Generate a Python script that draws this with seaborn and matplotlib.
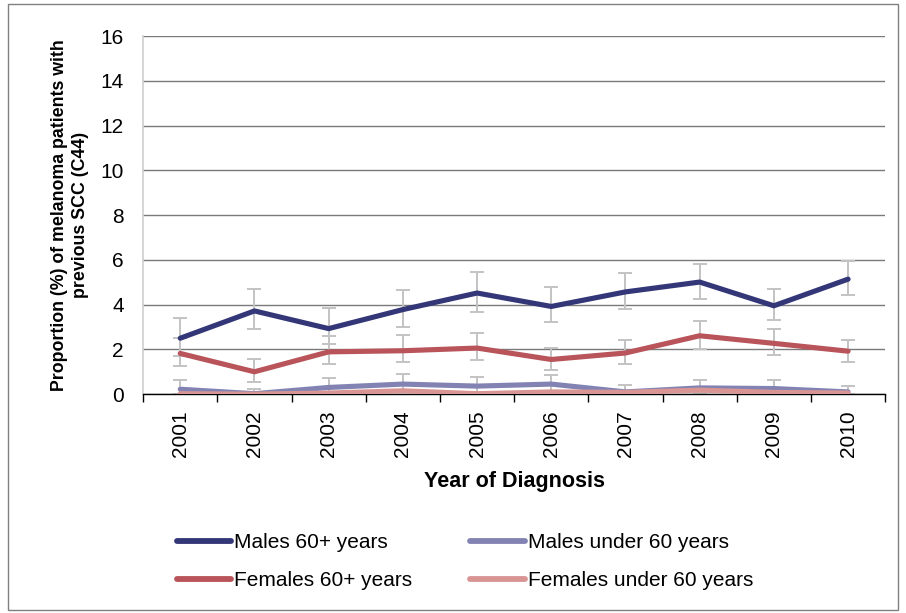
import matplotlib
matplotlib.use("Agg")
import matplotlib.pyplot as plt
import seaborn as sns
import pandas as pd
import numpy as np
from matplotlib.patches import Rectangle

years = ["2001", "2002", "2003", "2004", "2005", "2006", "2007", "2008", "2009", "2010"]

males_60 = [2.50, 3.72, 2.93, 3.78, 4.52, 3.92, 4.57, 5.01, 3.95, 5.14]
males_60_lo = [1.70, 2.89, 2.23, 2.98, 3.68, 3.23, 3.79, 4.24, 3.33, 4.45]
males_60_hi = [3.42, 4.72, 3.83, 4.67, 5.46, 4.79, 5.42, 5.80, 4.72, 5.95]

females_60 = [1.82, 1.00, 1.89, 1.94, 2.06, 1.55, 1.84, 2.61, 2.27, 1.92]
females_60_lo = [1.25, 0.55, 1.34, 1.44, 1.52, 1.10, 1.37, 2.04, 1.74, 1.44]
females_60_hi = [2.53, 1.55, 2.59, 2.63, 2.74, 2.08, 2.44, 3.26, 2.89, 2.44]

males_u60 = [0.22, 0.02, 0.30, 0.45, 0.36, 0.45, 0.10, 0.28, 0.25, 0.10]
males_u60_lo = [0.00, 0.00, 0.02, 0.12, 0.08, 0.15, 0.00, 0.05, 0.03, 0.00]
males_u60_hi = [0.62, 0.25, 0.73, 0.88, 0.75, 0.85, 0.40, 0.65, 0.62, 0.36]

females_u60 = [0.02, 0.00, 0.05, 0.15, 0.02, 0.10, 0.08, 0.18, 0.08, 0.05]

series_names = ["Males 60+ years", "Males under 60 years",
                "Females 60+ years", "Females under 60 years"]
colors = ["#333677", "#8283b3", "#b8545a", "#d89593"]

plt.rcParams["font.family"] = ["Liberation Sans", "DejaVu Sans"]

values = {
    "Males 60+ years": males_60,
    "Males under 60 years": males_u60,
    "Females 60+ years": females_60,
    "Females under 60 years": females_u60,
}
rows = []
for name in series_names:
    for i, v in enumerate(values[name]):
        rows.append({"pos": i, "year": years[i], "series": name, "value": v})
df = pd.DataFrame(rows)

fig = plt.figure(figsize=(9.06, 6.13), dpi=100)
ax = fig.add_axes([0.158, 0.357, 0.819, 0.584])

# confidence intervals
err_sets = [
    (males_60, males_60_lo, males_60_hi),
    (females_60, females_60_lo, females_60_hi),
    (males_u60, males_u60_lo, males_u60_hi),
]
x = np.arange(len(years))
for v, lo, hi in err_sets:
    v = np.array(v)
    yerr = np.vstack([v - np.array(lo), np.array(hi) - v])
    ax.errorbar(x, v, yerr=yerr, fmt="none", ecolor="#c3c3c3",
                elinewidth=1.4, capsize=5, capthick=1.4, zorder=2)

sns.lineplot(data=df, x="pos", y="value", hue="series", hue_order=series_names,
             palette=colors, linewidth=3.7, ax=ax, legend=False, zorder=3,
             solid_capstyle="round")

ax.set_xlim(-0.5, 9.5)
ax.set_ylim(0, 16)
ax.set_yticks(np.arange(0, 17, 2))
ax.set_xticks(x)
ax.set_xticklabels(years, rotation=90, fontsize=15)
ax.set_xticks(np.arange(-0.5, 10, 1), minor=True)
ax.tick_params(axis="x", which="major", length=0, pad=12)
ax.tick_params(axis="x", which="minor", length=6, width=1, color="black", direction="out")
ax.tick_params(axis="y", length=0, pad=14, labelsize=15)

ax.grid(axis="y", color="#7a7a7a", linewidth=1.0, zorder=0)
ax.set_axisbelow(True)
for s in ["top", "right"]:
    ax.spines[s].set_visible(False)
ax.spines["left"].set_color("#d0d0d0")
ax.spines["left"].set_linewidth(1.2)
ax.spines["bottom"].set_color("black")
ax.spines["bottom"].set_linewidth(1.0)

ax.set_xlabel("Year of Diagnosis", fontsize=15.5, fontweight="bold", labelpad=10)
ax.set_ylabel("Proportion (%) of melanoma patients with\nprevious SCC (C44)",
              fontsize=12.8, fontweight="bold", labelpad=8, linespacing=1.3)

handles = [plt.Line2D([], [], color=c, linewidth=4.2, solid_capstyle="round")
           for c in colors]
# two columns: Males 60+ / Females 60+ in the first, under-60 series in the second
order = [0, 2, 1, 3]
fig.legend([handles[i] for i in order], [series_names[i] for i in order],
           ncol=2, loc="upper left", bbox_to_anchor=(0.195, 0.130),
           frameon=False, fontsize=15, handlelength=2.6, handletextpad=0.15,
           columnspacing=2.8, labelspacing=0.9, borderpad=0, borderaxespad=0)

fig.patches.append(Rectangle((8 / 906, 3 / 613), 890 / 906, 606 / 613,
                             transform=fig.transFigure, fill=False,
                             edgecolor="#808080", linewidth=1.0))

fig.savefig("out.png", dpi=100)
